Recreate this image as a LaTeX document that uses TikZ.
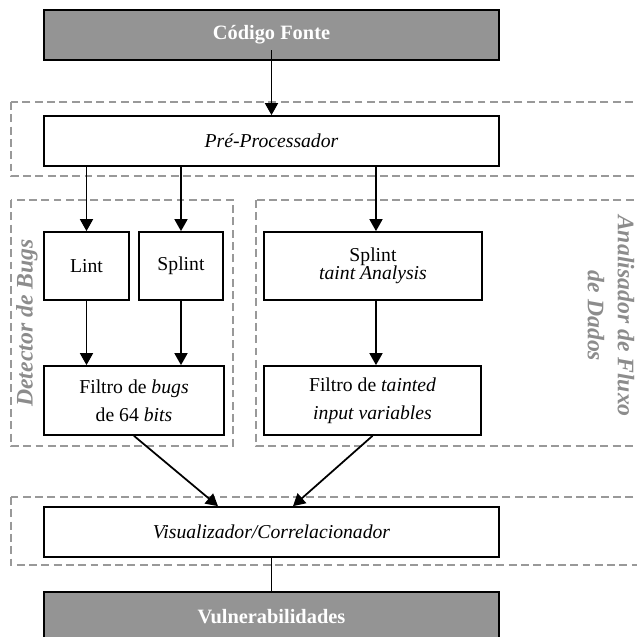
\documentclass[tikz,border=0pt]{standalone}
\usepackage{fontspec}
\setmainfont{Liberation Serif}
\usetikzlibrary{arrows.meta}

\tikzset{
  box/.style={draw, line width=1pt, fill=white, align=center, inner sep=0pt},
  darkbox/.style={box, fill=black!42, text=white, font=\fontsize{11.6}{14}\selectfont\bfseries},
  group/.style={draw=black!40, line width=.6pt, dash pattern=on 4.5pt off 2.5pt},
  grouplabel/.style={text=black!45, font=\fontsize{13.5}{17}\selectfont\bfseries\itshape, align=center},
  arr/.style={line width=1pt, -{Triangle[length=.24cm, width=.26cm]}}
}

\begin{document}
\begin{tikzpicture}[x=.02cm, y=-.02cm, font=\fontsize{11.2}{13}\selectfont]
  \useasboundingbox (0, 0) rectangle (637, 637);

  %% groups
  \draw[group](11, 102) rectangle (660, 176);
  \draw[group](11, 200) rectangle (233, 446);
  \draw[group](256, 200) rectangle (660, 446);
  \draw[group](11, 497) rectangle (660, 565);

  \node[grouplabel, rotate=90] (detlbl) at (27, 323) {Detector de Bugs};
  \node[grouplabel, rotate=-90] (fluxlbl) at (611, 316) {Analisador de Fluxo\\de Dados};

  %% top
  \node[darkbox, minimum width=9.1cm, minimum height=1cm] (src) at (271.5, 35) {Código Fonte};
  \node[box, minimum width=9.1cm, minimum height=1cm] (pre) at (271.5, 141) {\textit{Pré-Processador}};

  %% detector
  \node[box, minimum width=1.7cm, minimum height=1.36cm] (lint) at (86.5, 266) {Lint};
  \node[box, minimum width=1.68cm, minimum height=1.36cm] (splint) at (181, 266) {Splint};
  \node[box, minimum width=3.6cm, minimum height=1.38cm] (fbugs) at (134, 400.5)
    {Filtro de \textit{bugs}\\[3pt]de 64 \textit{bits}};

  %% fluxo
  \node[box, minimum width=4.36cm, minimum height=1.36cm] (taint) at (373, 266)
    {Splint\\[-3pt]\textit{taint Analysis}};
  \node[box, minimum width=4.34cm, minimum height=1.38cm] (ftaint) at (372.5, 400.5)
    {Filtro de \textit{tainted}\\[3pt]\textit{input variables}};

  %% bottom
  \node[box, minimum width=9.1cm, minimum height=1cm] (vis) at (271.5, 532) {\textit{Visualizador/Correlacionador}};
  \node[darkbox, minimum width=9.1cm, minimum height=1cm] (vuln) at (271.5, 617) {Vulnerabilidades};

  %% arrows
  \draw[arr]([yshift=-.3cm]src.center) -- (pre.north);
  \draw[arr](pre.south -| lint.north) -- (lint.north);
  \draw[arr](pre.south -| splint.north) -- (splint.north);
  \draw[arr]([xshift=.06cm]pre.south -| taint.north) -- ([xshift=.06cm]taint.north);
  \draw[arr](lint.south) -- (lint.south |- fbugs.north);
  \draw[arr](splint.south) -- (splint.south |- fbugs.north);
  \draw[arr]([xshift=.06cm]taint.south) -- ([xshift=.06cm]taint.south |- ftaint.north);
  \draw[arr](fbugs.south) -- ([xshift=-1.07cm]vis.north);
  \draw[arr](ftaint.south) -- ([xshift=.43cm]vis.north);
  \draw[line width=1pt](vis.south) -- (vuln.north);

\end{tikzpicture}
\end{document}
